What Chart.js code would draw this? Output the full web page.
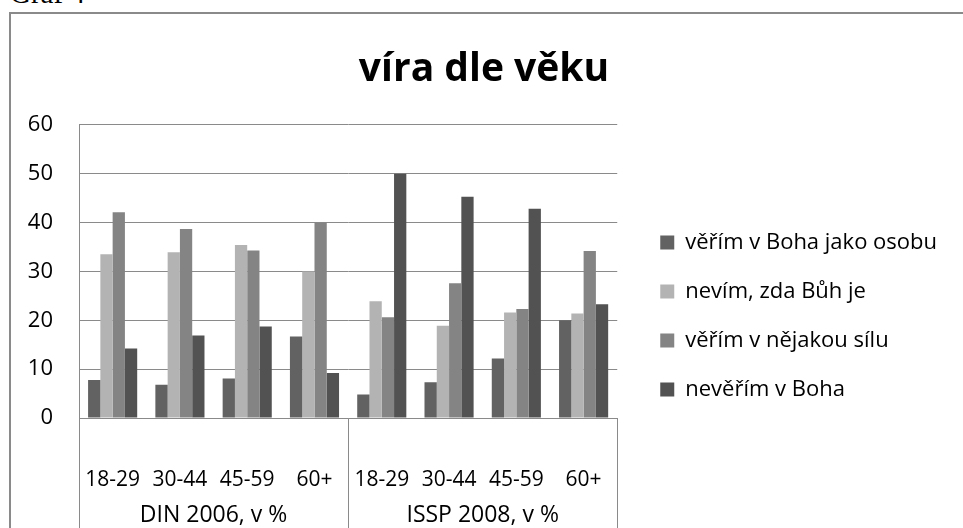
<!DOCTYPE html>
<html>
<head>
<meta charset="utf-8">
<script src="https://cdn.jsdelivr.net/npm/chart.js@4/dist/chart.umd.min.js"></script>
<style>
  html, body { margin: 0; padding: 0; background: #fff; overflow: hidden; }
  #wrap { position: relative; width: 963px; height: 528px; overflow: hidden; }
  #caption { position: absolute; left: 10px; top: -21px; font: 29px/29px "Liberation Serif", serif; color: #000; }
  #frame { position: absolute; left: 9px; top: 12px; width: 1000px; height: 600px; border: 2px solid #8a8a8a; }
  #chart { position: absolute; left: 0; top: 0; }
</style>
</head>
<body>
<div id="wrap">
  <div id="caption">Graf 4</div>
  <div id="frame"></div>
  <canvas id="chart" width="963" height="528"></canvas>
</div>
<script>
const ageLabels = ['18-29', '30-44', '45-59', '60+', '18-29', '30-44', '45-59', '60+'];
const groupLabels = ['DIN 2006, v %', 'ISSP 2008, v %'];
const seriesNames = ['věřím v Boha jako osobu', 'nevím, zda Bůh je', 'věřím v nějakou sílu', 'nevěřím v Boha'];
const seriesColors = ['#626262', '#b3b3b3', '#848484', '#525252'];

const beliefPerson = [7.8, 6.8, 8.1, 16.7, 4.8, 7.3, 12.2, 20.0];
const dontKnow = [33.5, 33.9, 35.4, 30.0, 23.9, 18.9, 21.6, 21.4];
const somePower = [42.1, 38.7, 34.3, 40.0, 20.6, 27.6, 22.3, 34.2];
const noGod = [14.2, 16.9, 18.7, 9.2, 50.0, 45.3, 42.8, 23.3];

const FONT = '"Open Sans", Lato, sans-serif';
const GRID = '#8a8a8a';

const seriesValues = [beliefPerson, dontKnow, somePower, noGod];

new Chart(document.getElementById('chart'), {
  type: 'bar',
  data: {
    labels: ageLabels,
    datasets: seriesValues.map((vals, i) => ({
      label: seriesNames[i],
      data: vals,
      backgroundColor: seriesColors[i],
      borderWidth: 0,
      categoryPercentage: 0.73,
      barPercentage: 1.0
    }))
  },
  options: {
    responsive: false,
    animation: false,
    layout: { padding: { left: 21, right: 16, top: 0, bottom: 0 } },
    plugins: {
      tooltip: { enabled: false },
      title: {
        display: true,
        text: 'víra dle věku',
        color: '#000',
        font: { family: FONT, size: 39, weight: 'bold' },
        padding: { top: 46, bottom: 32 }
      },
      legend: {
        position: 'right',
        align: 'start',
        maxWidth: 400,
        // empty title only pushes the items down to the plot's middle
        title: { display: true, text: '', padding: { top: 190, bottom: 0 } },
        labels: {
          boxWidth: 14,
          boxHeight: 14,
          padding: 27,
          color: '#000',
          font: { family: FONT, size: 22 }
        }
      }
    },
    scales: {
      x: {
        position: 'bottom',
        offset: true,
        grid: {
          offset: true,
          drawOnChartArea: false,
          drawTicks: true,
          tickLength: 80,
          // only the group borders get a line
          color: (c) => (c.type === 'tick' && c.index % 4 !== 0) ? 'rgba(0,0,0,0)' : GRID
        },
        border: { display: true, color: GRID },
        ticks: { color: '#000', font: { family: FONT, size: 21 }, padding: -31, maxRotation: 0, autoSkip: false },
        afterFit: (s) => { s.height = 80; }
      },
      x2: {
        type: 'category',
        labels: groupLabels,
        position: 'bottom',
        offset: true,
        grid: { offset: true, drawOnChartArea: false, drawTicks: true, tickLength: 30, color: GRID },
        border: { display: false },
        ticks: { color: '#000', font: { family: FONT, size: 23 }, padding: -26, maxRotation: 0 },
        afterFit: (s) => { s.height = 30; }
      },
      y: {
        min: 0,
        max: 60,
        ticks: { stepSize: 10, color: '#000', font: { family: FONT, size: 22 }, padding: 26 },
        grid: { color: GRID, drawTicks: false },
        border: { color: GRID },
        afterFit: (s) => { s.width = 58; }
      },
      yR: {
        position: 'right',
        grid: { display: false },
        border: { display: false },
        ticks: { display: false },
        afterFit: (s) => { s.width = 16; }
      }
    }
  }
});
</script>
</body>
</html>
